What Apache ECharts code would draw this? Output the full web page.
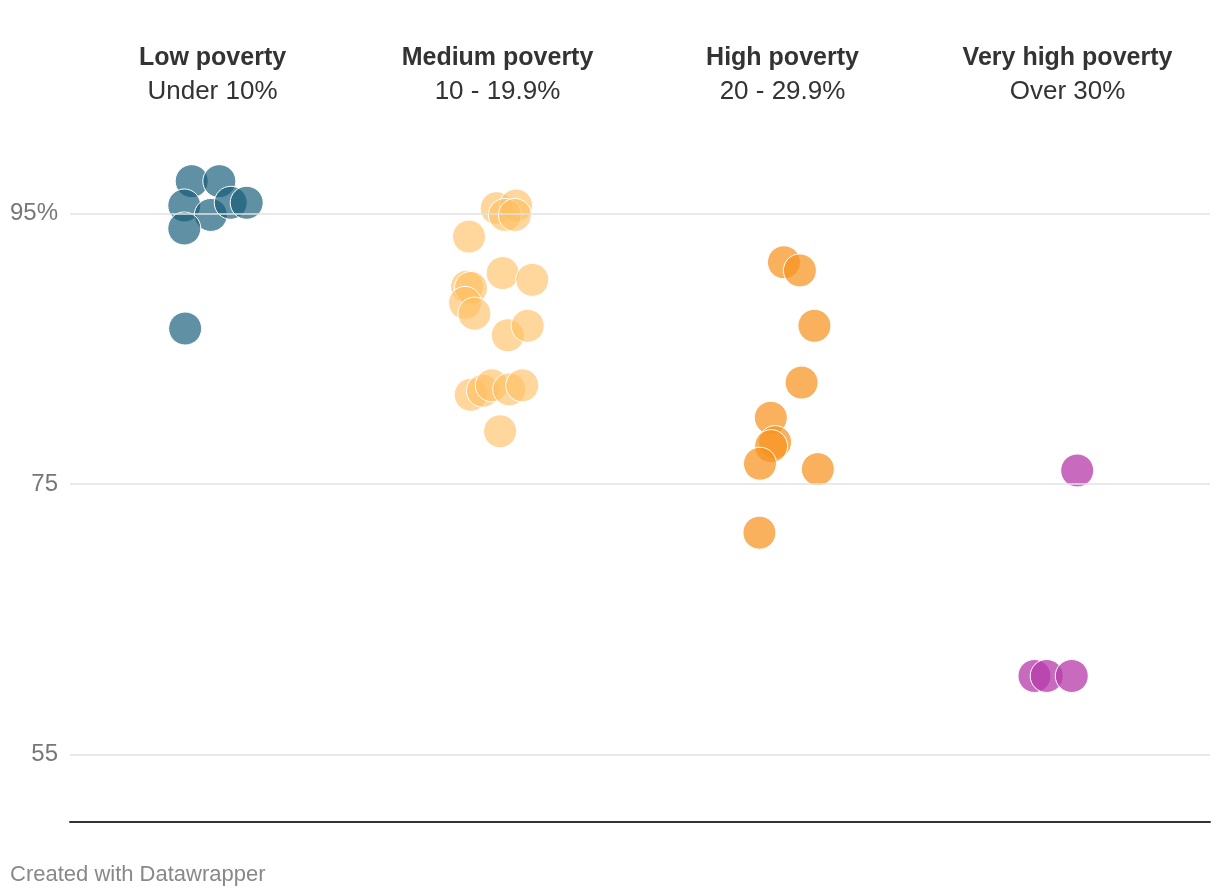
<!DOCTYPE html>
<html>
<head>
<meta charset="utf-8">
<script src="https://cdn.jsdelivr.net/npm/echarts@6/dist/echarts.min.js"></script>
<style>
html,body{margin:0;padding:0;background:#fff;}
#chart{width:1220px;height:896px;}
</style>
</head>
<body>
<div id="chart"></div>
<script>
const categories = ['Low poverty', 'Medium poverty', 'High poverty', 'Very high poverty'];
const subtitles = ['Under 10%', '10 - 19.9%', '20 - 29.9%', 'Over 30%'];
const yTicks = [55, 75, 95];

// values (percent)
const lowValues = [97.4, 97.4, 95.6, 94.9, 95.8, 95.8, 93.9, 86.5];
const mediumValues = [95.4, 95.6, 94.9, 94.9, 93.3, 90.6, 90.1, 89.6, 89.5, 88.4, 87.6, 86.0, 86.7, 81.6, 81.9, 82.3, 82.0, 82.3, 78.9];
const highValues = [91.4, 90.8, 86.7, 82.5, 79.9, 78.1, 77.8, 76.5, 76.1, 71.4];
const veryHighValues = [76.0, 60.8, 60.8, 60.8];

// horizontal jitter within each column (fraction of column width)
const lowJitter = [-0.073, 0.024, -0.099, -0.006, 0.064, 0.120, -0.099, -0.096];
const mediumJitter = [-0.003, 0.065, 0.026, 0.061, -0.100, 0.018, 0.122, -0.107, -0.093, -0.114, -0.081, 0.036, 0.106, -0.094, -0.051, -0.020, 0.041, 0.087, 0.009];
const highJitter = [0.005, 0.061, 0.112, 0.067, -0.041, -0.026, -0.040, -0.079, 0.124, -0.081];
const veryHighJitter = [0.034, -0.116, -0.073, 0.015];

const groups = [
  {values: lowValues, jitter: lowJitter, color: 'rgba(21,92,120,0.68)'},
  {values: mediumValues, jitter: mediumJitter, color: 'rgba(255,190,95,0.62)'},
  {values: highValues, jitter: highJitter, color: 'rgba(247,147,30,0.72)'},
  {values: veryHighValues, jitter: veryHighJitter, color: 'rgba(181,58,169,0.75)'}
];

const FONT = '"Liberation Sans", Arial, sans-serif';

const series = groups.map((g, i) => ({
  type: 'scatter',
  name: categories[i],
  xAxisIndex: 1,
  yAxisIndex: 0,
  symbol: 'circle',
  symbolSize: 33,
  itemStyle: {color: g.color, borderColor: '#fff', borderWidth: 1, opacity: 1},
  emphasis: {disabled: true},
  data: g.values.map((v, k) => [i + 0.5 + g.jitter[k], v]),
  z: 3
}));

series.unshift({
  type: 'scatter',
  xAxisIndex: 1,
  yAxisIndex: 0,
  data: [],
  silent: true,
  z: 1,
  markLine: {
    silent: true,
    symbol: 'none',
    label: {show: false},
    lineStyle: {color: '#e2e2e2', width: 1.5, type: 'solid'},
    data: yTicks.map(t => ({yAxis: t}))
  }
});

const chart = echarts.init(document.getElementById('chart'), null, {renderer: 'canvas'});
chart.setOption({
  animation: false,
  backgroundColor: '#fff',
  textStyle: {fontFamily: FONT},
  grid: {left: 70, right: 10, top: 146, bottom: 74, containLabel: false},
  xAxis: [
    {
      type: 'category',
      position: 'top',
      data: categories,
      boundaryGap: true,
      axisLine: {show: false},
      axisTick: {show: false},
      splitLine: {show: false},
      axisLabel: {
        interval: 0,
        margin: 37,
        formatter: (v, i) => '{b|' + v + '}\n{r|' + subtitles[i] + '}',
        rich: {
          b: {fontFamily: FONT, fontSize: 25, fontWeight: 'bold', color: '#333', lineHeight: 34},
          r: {fontFamily: FONT, fontSize: 26, color: '#333', lineHeight: 34}
        }
      }
    },
    {
      type: 'value',
      position: 'bottom',
      min: 0,
      max: 4,
      axisLine: {show: true, onZero: false, lineStyle: {color: '#333', width: 2}},
      axisTick: {show: false},
      axisLabel: {show: false},
      splitLine: {show: false}
    }
  ],
  yAxis: [{
    type: 'value',
    min: 50,
    max: 100,
    interval: 5,
    axisLine: {show: false},
    axisTick: {show: false},
    splitLine: {show: false},
    axisLabel: {
      margin: 12,
      fontFamily: FONT,
      fontSize: 24,
      color: '#777',
      formatter: v => yTicks.indexOf(v) < 0 ? '' : (v === yTicks[yTicks.length - 1] ? v + '%' : String(v))
    }
  }],
  graphic: [{
    type: 'text',
    left: 10,
    top: 864,
    style: {text: 'Created with Datawrapper', fontFamily: FONT, fontSize: 22, fill: '#888'}
  }],
  series: series
});
</script>
</body>
</html>
